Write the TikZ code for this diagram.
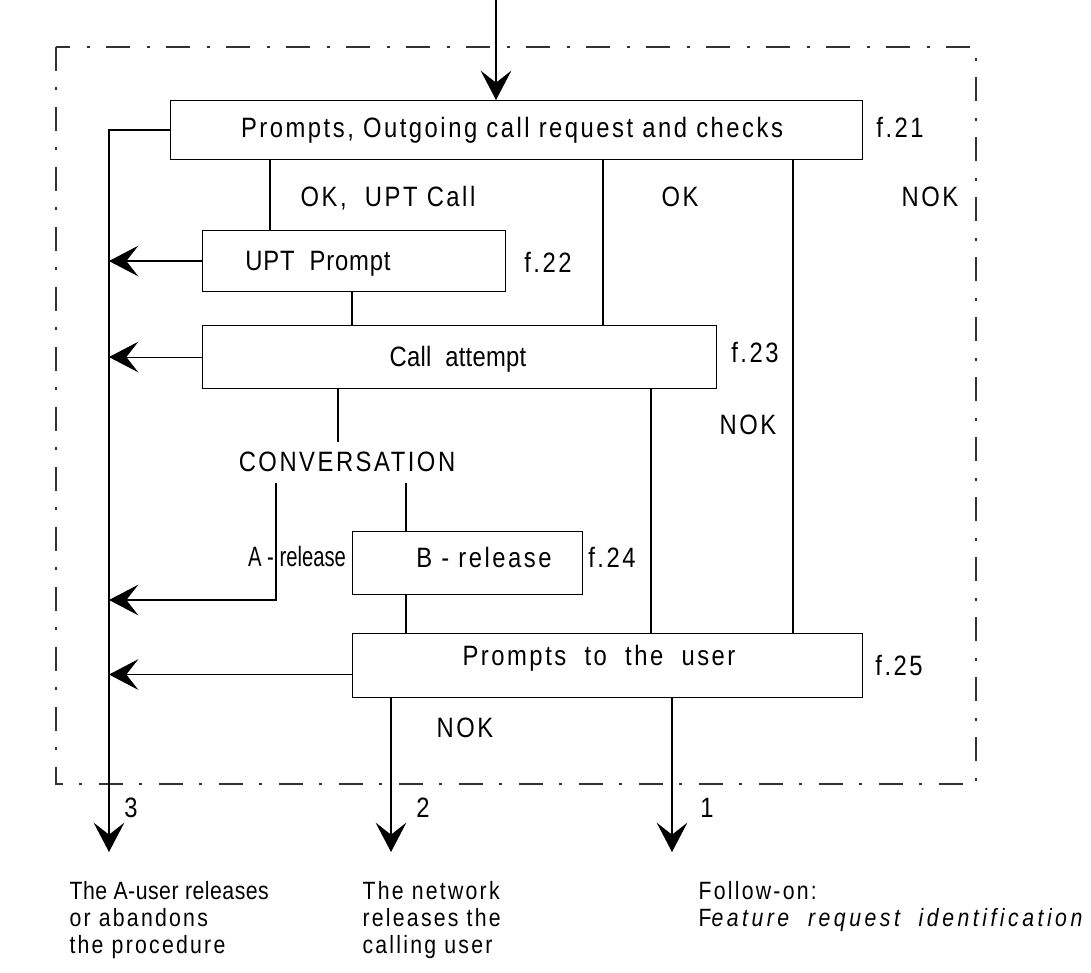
\documentclass[tikz,border=0pt]{standalone}
\usepackage{fontspec}
\usepackage{graphicx}
\setmainfont{Liberation Sans}[FakeStretch=0.85,LetterSpace=9]
\usetikzlibrary{arrows.meta}
\newcommand\bxfont{\fontsize{21}{25}\selectfont}
\newcommand\btfont{\fontsize{18.75}{20.25}\selectfont}
\begin{document}
\begin{tikzpicture}[x=0.75pt,y=-0.75pt,line width=0.8pt,
  box/.style={draw, anchor=north west, inner sep=0pt},
  lbl/.style={anchor=base, inner sep=0pt, font=\bxfont},
  btxt/.style={anchor=north west, inner sep=0pt, align=left, font=\btfont},
  arr/.style={-{Stealth[length=22pt,width=23pt,inset=9pt]}},
  frame/.style={dash pattern=on 18pt off 12pt on 2pt off 13pt, draw=black!80}]
\useasboundingbox (0,0) rectangle (1091,973);
% frame
\draw[frame] (56,47) rectangle (976,784);
% boxes
\node[box, minimum width=519pt, minimum height=44.25pt] (f21) at (170,100) {};
\node[box, minimum width=227.25pt, minimum height=45.75pt] (f22) at (202,230) {};
\node[box, minimum width=385.5pt, minimum height=47.25pt] (f23) at (202,325) {};
\node[box, minimum width=172.5pt, minimum height=47.25pt] (f24) at (352,531) {};
\node[box, minimum width=382.5pt, minimum height=48pt] (f25) at (352,633) {};
% box texts
\node[lbl] (t21) at (512,138) {Prompts, Outgoing call request and checks};
\node[lbl] (t22) at (318,271) {\addfontfeature{LetterSpace=3}UPT\ \ Prompt};
\node[lbl] (t23) at (458,366) {\addfontfeature{LetterSpace=1}Call\ \ attempt};
\node[lbl] (t24) at (484,567) {B - release};
\node[lbl] (t25) at (599,665) {Prompts\ \ to\ \ the\ \ user};
% figure labels
\node[lbl] (l21) at (900,138) {f.21};
\node[lbl] (l22) at (548,273) {f.22};
\node[lbl] (l23) at (755,362) {f.23};
\node[lbl] (l24) at (612,567) {f.24};
\node[lbl] (l25) at (899,675) {f.25};
% other labels
\node[lbl] (okupt) at (388,207) {OK,\ \ UPT Call};
\node[lbl] (ok) at (680,207) {OK};
\node[lbl] (nok1) at (930,207) {NOK};
\node[lbl] (nok2) at (748,434) {NOK};
\node[lbl] (conv) at (347,471) {CONVERSATION};
\node[lbl] (arel) at (297,566) {\scalebox{0.85}[1]{\addfontfeature{LetterSpace=0}A - release}};
\node[lbl] (nok3) at (465,737) {NOK};
\node[lbl] (n3) at (131,817) {3};
\node[lbl] (n2) at (423,817) {2};
\node[lbl] (n1) at (707,817) {1};
% bottom texts
\node[btxt] (b3) at (69,881) {{\addfontfeature{LetterSpace=2}The A-user releases}\\or abandons\\the procedure};
\node[btxt] (b2) at (362,881) {The network\\releases the\\calling user};
\node[btxt] (b1) at (698,881) {Follow-on:\\{\addfontfeature{LetterSpace=14}F\textit{eature\ \ request\ \ identification}}};
% coordinates
\coordinate (top) at (496,0);
\coordinate (xL) at (109,0);
\coordinate (e3) at (109,852);
\coordinate (e2) at (391,852);
\coordinate (e1) at (672,852);
\coordinate (x1) at (270,0);
\coordinate (x2) at (603,0);
\coordinate (x3) at (793,0);
\coordinate (x4) at (352,0);
\coordinate (x5) at (651,0);
\coordinate (c1) at (338,442);
\coordinate (ca) at (276,483);
\coordinate (ab) at (109,600);
\coordinate (cb) at (406,483);
% connectors
\draw[arr] (top) -- (top |- f21.north);
\draw[arr] (f21.west) -| (e3);
\draw (x1 |- f21.south) -- (x1 |- f22.north);
\draw (x2 |- f21.south) -- (x2 |- f23.north);
\draw (x3 |- f21.south) -- (x3 |- f25.north);
\draw[arr] (f22.west) -- (f22.west -| xL);
\draw (x4 |- f22.south) -- (x4 |- f23.north);
\draw[arr] (f23.west) -- (f23.west -| xL);
\draw (c1 |- f23.south) -- (c1);
\draw (x5 |- f23.south) -- (x5 |- f25.north);
\draw[arr] (ca) |- (ab);
\draw (cb) -- (cb |- f24.north);
\draw (cb |- f24.south) -- (cb |- f25.north);
\draw[arr] ([yshift=-6.75pt]f25.west) -- ([yshift=-6.75pt]f25.west -| xL);
\draw[arr] (e2 |- f25.south) -- (e2);
\draw[arr] (e1 |- f25.south) -- (e1);
\end{tikzpicture}
\end{document}
